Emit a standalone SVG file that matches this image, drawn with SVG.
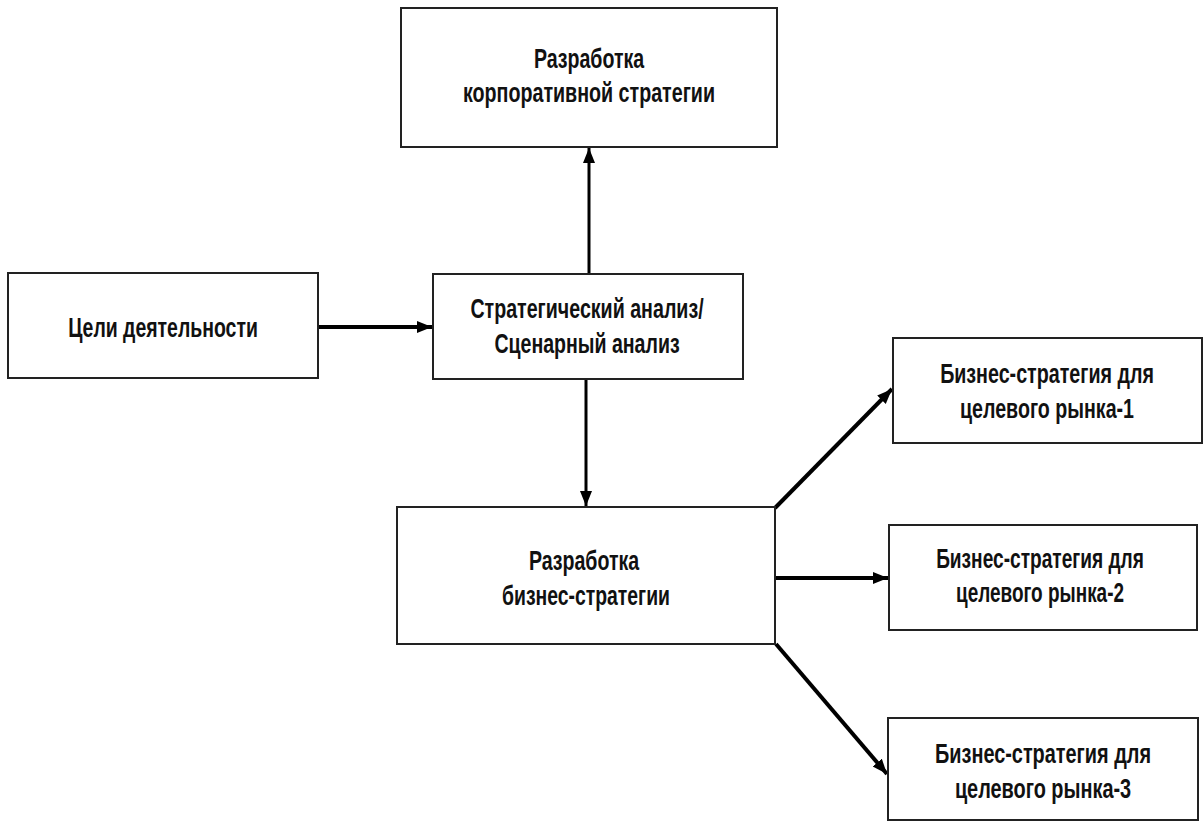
<svg xmlns="http://www.w3.org/2000/svg" width="1203" height="822" viewBox="0 0 1203 822">
<defs>
<style>
.box{fill:#fff;stroke:#222;stroke-width:2}
.t{font-family:"Liberation Sans",Arial,sans-serif;font-weight:bold;font-size:28px;fill:#111;text-anchor:middle}
.c{stroke:#000;stroke-width:4;fill:none}
.c3{stroke:#000;stroke-width:3;fill:none}
</style>
<marker id="ah" markerUnits="userSpaceOnUse" markerWidth="16" markerHeight="14" refX="15" refY="6" orient="auto">
<path d="M0,0 L15,6 L0,12 z" fill="#000"/>
</marker>
</defs>
<rect width="1203" height="822" fill="#fff"/>
<g id="connectors">
<line class="c" x1="318" y1="327" x2="432" y2="327" marker-end="url(#ah)"/>
<line class="c3" x1="589" y1="274" x2="589" y2="148" marker-end="url(#ah)"/>
<line class="c3" x1="586" y1="379" x2="586" y2="506" marker-end="url(#ah)"/>
<line class="c" x1="775" y1="508" x2="892" y2="389" marker-end="url(#ah)"/>
<line class="c" x1="776" y1="578" x2="888" y2="578" marker-end="url(#ah)"/>
<line class="c" x1="776" y1="644" x2="887" y2="774" marker-end="url(#ah)"/>
</g>
<g id="corp">
<rect class="box" x="401" y="8" width="376" height="139"/>
<text class="t" transform="translate(589 68) scale(0.75 1)" textLength="147" lengthAdjust="spacingAndGlyphs">Разработка</text>
<text class="t" transform="translate(589 102) scale(0.75 1)" textLength="336" lengthAdjust="spacingAndGlyphs">корпоративной  стратегии</text>
</g>
<g id="goals">
<rect class="box" x="8" y="273" width="310" height="105"/>
<text class="t" transform="translate(163 337) scale(0.75 1)" textLength="253" lengthAdjust="spacingAndGlyphs">Цели деятельности</text>
</g>
<g id="analysis">
<rect class="box" x="433" y="274" width="310" height="105"/>
<text class="t" transform="translate(587 318) scale(0.75 1)" textLength="311" lengthAdjust="spacingAndGlyphs">Стратегический  анализ/</text>
<text class="t" transform="translate(587 353) scale(0.75 1)" textLength="247" lengthAdjust="spacingAndGlyphs">Сценарный анализ</text>
</g>
<g id="business">
<rect class="box" x="397" y="507" width="378" height="137"/>
<text class="t" transform="translate(584 570) scale(0.75 1)" textLength="147" lengthAdjust="spacingAndGlyphs">Разработка</text>
<text class="t" transform="translate(586 605) scale(0.75 1)" textLength="224" lengthAdjust="spacingAndGlyphs">бизнес-стратегии</text>
</g>
<g id="market1">
<rect class="box" x="893" y="338" width="309" height="105"/>
<text class="t" transform="translate(1047 383) scale(0.75 1)" textLength="285" lengthAdjust="spacingAndGlyphs">Бизнес-стратегия  для</text>
<text class="t" transform="translate(1047 418) scale(0.75 1)" textLength="232" lengthAdjust="spacingAndGlyphs">целевого рынка-1</text>
</g>
<g id="market2">
<rect class="box" x="889" y="525" width="308" height="105"/>
<text class="t" transform="translate(1040 568) scale(0.75 1)" textLength="277" lengthAdjust="spacingAndGlyphs">Бизнес-стратегия  для</text>
<text class="t" transform="translate(1040 602) scale(0.75 1)" textLength="224" lengthAdjust="spacingAndGlyphs">целевого рынка-2</text>
</g>
<g id="market3">
<rect class="box" x="888" y="718" width="310" height="102"/>
<text class="t" transform="translate(1043 763) scale(0.75 1)" textLength="288" lengthAdjust="spacingAndGlyphs">Бизнес-стратегия  для</text>
<text class="t" transform="translate(1043 798) scale(0.75 1)" textLength="235" lengthAdjust="spacingAndGlyphs">целевого рынка-3</text>
</g>
</svg>
